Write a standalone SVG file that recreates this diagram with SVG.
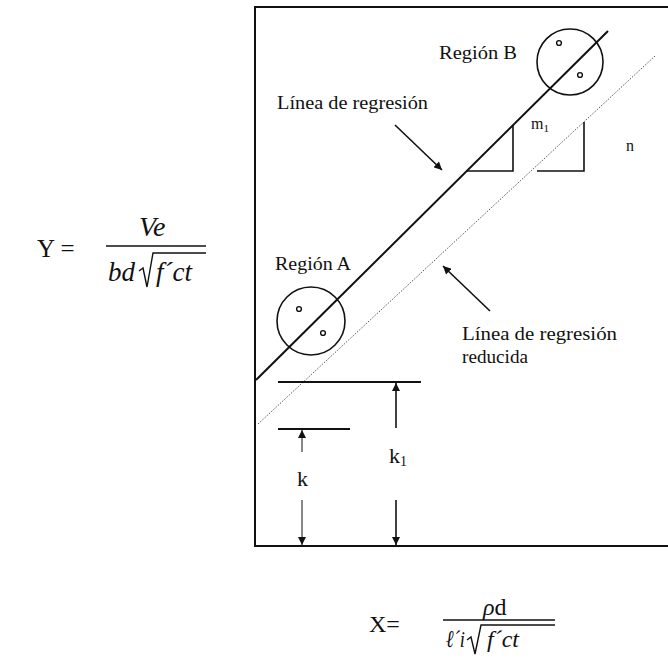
<svg xmlns="http://www.w3.org/2000/svg" width="668" height="662" viewBox="0 0 668 662">
<defs>
<style>
text{font-family:'Liberation Serif','DejaVu Serif',serif;fill:#111}
.it{font-style:italic}
.ln{stroke:#111;fill:none;stroke-width:2}
.th{stroke:#111;fill:none;stroke-width:1.6}
.dot{stroke:#555;fill:none;stroke-width:1;stroke-dasharray:1.5 1.5}
.pt{fill:none;stroke:#111;stroke-width:1.4}
</style>
<marker id="ah" viewBox="0 0 10 10" refX="10" refY="5" markerWidth="9" markerHeight="8" markerUnits="userSpaceOnUse" orient="auto">
<path d="M0,0 L10,5 L0,10 z" fill="#111"/>
</marker>
</defs>
<rect width="668" height="662" fill="#fff"/>

<g id="frame">
<path class="ln" d="M668,7 H255 V546 H668"/>
</g>

<g id="regression-line">
<line class="ln" x1="256" y1="380" x2="608" y2="31"/>
<path class="th" d="M467,171 H513 V125"/>
</g>

<g id="reduced-line">
<line class="dot" x1="258" y1="424" x2="655" y2="56"/>
<path class="th" d="M537,171 H584 V122"/>
</g>

<g id="region-b" font-family="Liberation Serif, serif">
<circle class="th" cx="570" cy="62" r="33"/>
<circle class="pt" cx="559" cy="43" r="2.4"/>
<circle class="pt" cx="580" cy="75" r="2.4"/>
<text x="439" y="59" font-size="19" textLength="78" lengthAdjust="spacingAndGlyphs">Región B</text>
</g>

<g id="region-a" font-family="Liberation Serif, serif">
<circle class="th" cx="311" cy="321" r="34"/>
<circle class="pt" cx="299" cy="309" r="2.4"/>
<circle class="pt" cx="323" cy="333" r="2.4"/>
<text x="275" y="270" font-size="19" textLength="76" lengthAdjust="spacingAndGlyphs">Región A</text>
</g>

<g id="labels" font-family="Liberation Serif, serif">
<text x="277" y="109" font-size="19" textLength="151" lengthAdjust="spacingAndGlyphs">Línea de regresión</text>
<text x="462" y="340" font-size="19" textLength="155" lengthAdjust="spacingAndGlyphs">Línea de regresión</text>
<text x="462" y="363" font-size="19" textLength="66" lengthAdjust="spacingAndGlyphs">reducida</text>
<text x="531" y="129" font-size="16">m<tspan font-size="11" dy="3">1</tspan></text>
<text x="626" y="151" font-size="16">n</text>
<text x="297" y="486" font-size="22">k</text>
<text x="389" y="463" font-size="22">k<tspan font-size="14" dy="3">1</tspan></text>
</g>

<g id="levels">
<line class="ln" x1="278" y1="382" x2="421" y2="382"/>
<line class="ln" x1="278" y1="429" x2="350" y2="429"/>
</g>

<g id="connectors">
<line class="th" x1="395" y1="125" x2="442" y2="170" marker-end="url(#ah)"/>
<line class="th" x1="490" y1="311" x2="443" y2="266" marker-end="url(#ah)"/>
<line class="th" x1="396" y1="428" x2="396" y2="383" marker-end="url(#ah)"/>
<line class="th" x1="396" y1="500" x2="396" y2="545" marker-end="url(#ah)"/>
<line x1="302" y1="452" x2="302" y2="430" stroke="#111" stroke-width="1" marker-end="url(#ah)"/>
<line x1="302" y1="500" x2="302" y2="545" stroke="#111" stroke-width="1" marker-end="url(#ah)"/>
</g>

<g id="formula-y" font-family="Liberation Serif, serif">
<text x="37" y="257" font-size="25">Y =</text>
<text class="it" x="139" y="236" font-size="28">Ve</text>
<line x1="106" y1="246" x2="206" y2="246" stroke="#111" stroke-width="1.4"/>
<text class="it" x="108" y="281" font-size="27">bd</text>
<path d="M139,271 L143,268 L147,287 L153,253 H206" fill="none" stroke="#111" stroke-width="1.4"/>
<text class="it" x="156" y="281" font-size="27">f´ct</text>
</g>

<g id="formula-x" font-family="Liberation Serif, serif">
<text x="369" y="632" font-size="24">X=</text>
<text x="483" y="615" font-size="24"><tspan font-style="italic">ρ</tspan>d</text>
<line x1="443" y1="620" x2="555" y2="620" stroke="#111" stroke-width="1.4"/>
<text class="it" x="446" y="647" font-size="24" textLength="19" lengthAdjust="spacingAndGlyphs">ℓ´i</text>
<path d="M467,640 L471,637 L475,654 L481,625 H555" fill="none" stroke="#111" stroke-width="1.4"/>
<text class="it" x="487" y="647" font-size="24">f´ct</text>
</g>
</svg>
